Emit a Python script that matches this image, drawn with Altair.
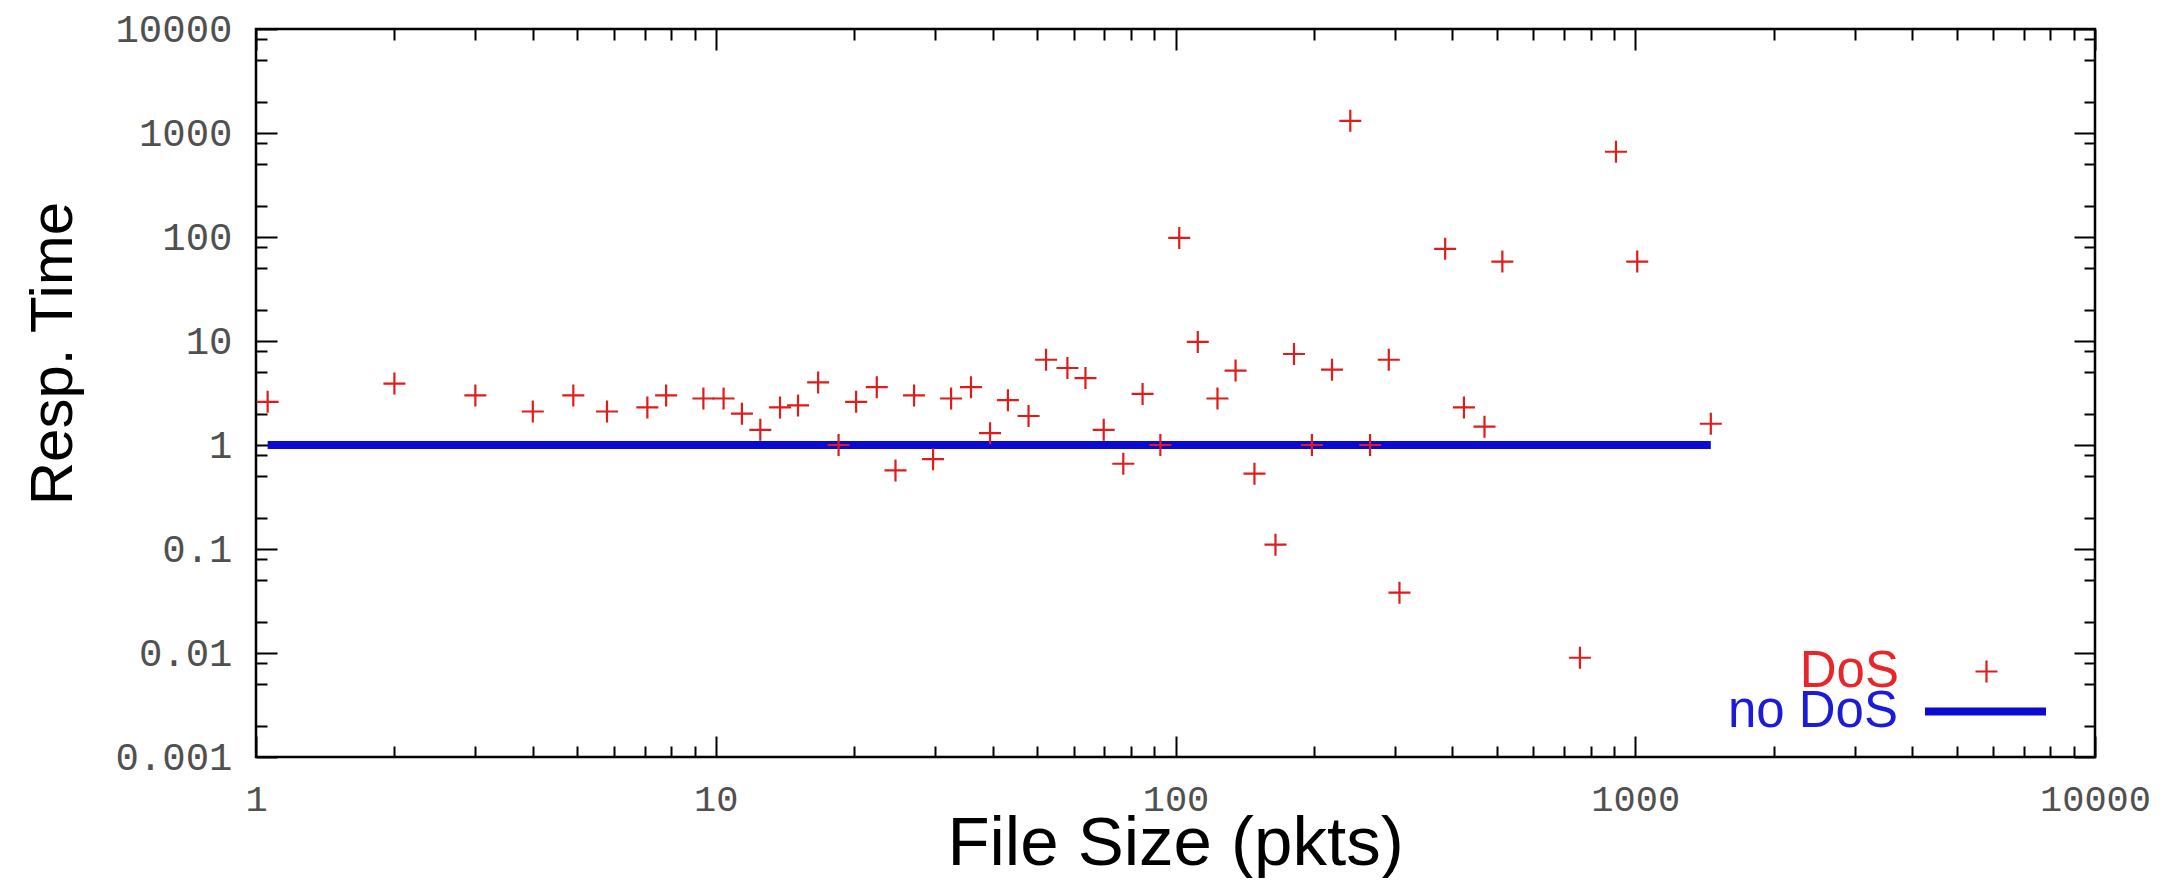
import altair as alt
import pandas as pd

# ---- data ----
dos_size = [1.06, 2, 3, 4, 4.9, 5.8, 7.1, 7.8, 9.4, 10.4, 11.4, 12.5, 13.8, 15.1, 16.7,
            18.5, 20.2, 22.4, 24.6, 27.0, 29.7, 32.5, 35.9, 39.5, 43.2, 47.9, 52.3,
            58.2, 63.7, 69.8, 77.0, 84.8, 92.7, 101.9, 111.8, 123.4, 135.1, 148.5,
            165, 181, 198, 219, 240, 265, 291, 307, 386, 424, 470, 514, 758, 908,
            1010, 1460]
dos_time = [2.6, 3.9, 3.0, 2.1, 3.0, 2.1, 2.3, 3.0, 2.8, 2.8, 2.0, 1.4, 2.3, 2.4, 4.0,
            1.0, 2.6, 3.6, 0.57, 3.0, 0.73, 2.8, 3.6, 1.3, 2.7, 1.9, 6.6,
            5.5, 4.4, 1.4, 0.66, 3.1, 1.0, 98, 9.8, 2.8, 5.2, 0.53,
            0.11, 7.5, 1.0, 5.3, 1310, 1.0, 6.6, 0.038, 77, 2.3, 1.5, 58, 0.009, 660,
            58, 1.6]
nodos_size = [1.06, 1460]
nodos_time = [1, 1]

dos_name, nodos_name = "DoS", "no DoS"
dos_color, nodos_color = "#e01b1b", "#0a0ad2"
dos_label_color, nodos_label_color = "#e8262a", "#1c1cd8"
PLUS = "M-1,0L1,0M0,-1L0,1"

x_major = [1, 10, 100, 1000, 10000]
x_minor = [m * 10 ** k for k in range(4) for m in range(2, 10)]
y_major = [0.001, 0.01, 0.1, 1, 10, 100, 1000, 10000]
y_minor = [round(m * 10.0 ** k, 6) for k in range(-3, 4) for m in (2, 5, 8)]

MONO = "Liberation Mono"
SANS = "Liberation Sans"
MAJ, MIN = 21, 11

dos_df = pd.DataFrame({"size": dos_size, "time": dos_time, "series": dos_name})
line_df = pd.DataFrame({"size": nodos_size, "time": nodos_time, "series": nodos_name})

xscale = alt.Scale(type="log", domain=[1, 10000], nice=False)
yscale = alt.Scale(type="log", domain=[0.001, 10000], nice=False)

legend_common = dict(
    title=None, orient="none", direction="vertical", labelFont=SANS, labelFontSize=51,
    labelAlign="right", labelBaseline="middle", labelLimit=0, padding=0,
)
legend_dos = alt.Legend(
    legendX=1705, legendY=617, symbolType=PLUS, symbolSize=484, symbolStrokeWidth=2.2,
    symbolFillColor="transparent", labelColor=dos_label_color,
    labelOffset=alt.ExprRef(expr="-113"), **legend_common)
legend_nodos = alt.Legend(
    legendX=1665, legendY=618, symbolType="stroke", symbolSize=14641, symbolStrokeWidth=8,
    labelColor=nodos_label_color, labelOffset=alt.ExprRef(expr="-152"), **legend_common)


def tick_axis(orient, values, length):
    return alt.Axis(orient=orient, values=values, offset=-length, tickSize=length,
                    tickWidth=2, tickColor="black", labels=False, domain=False,
                    grid=False, title=None)


x_label_axis = alt.Axis(
    orient="bottom", values=x_major, labelExpr="format(datum.value, '~f')",
    labelFont=MONO, labelFontSize=37, labelColor="#505050", labelPadding=24,
    labelFlush=False, labelOverlap=False, ticks=False, domain=False, grid=False,
    title="File Size (pkts)", titleFont=SANS, titleFontSize=69, titleFontWeight="normal",
    titleColor="black", titleX=919, titleY=107, titleBaseline="alphabetic", titleAlign="center")

y_label_axis = alt.Axis(
    orient="left", values=y_major, labelExpr="format(datum.value, '~f')",
    labelFont=MONO, labelFontSize=39, labelColor="#505050", labelPadding=24,
    labelFlush=False, labelOverlap=False, ticks=False, domain=False, grid=False,
    title="Resp. Time", titleFont=SANS, titleFontSize=60, titleFontWeight="normal",
    titleColor="black", titleX=-203, titleY=324, titleAngle=270,
    titleBaseline="middle", titleAlign="center")


def ghost(xaxis, yaxis):
    return alt.Chart(line_df).mark_line(opacity=0).encode(
        x=alt.X("size:Q", scale=xscale, axis=xaxis),
        y=alt.Y("time:Q", scale=yscale, axis=yaxis),
    )


g1 = ghost(tick_axis("bottom", x_minor, MIN), tick_axis("left", y_minor, MIN))
g2 = ghost(tick_axis("top", x_major, MAJ), tick_axis("right", y_major, MAJ))
g3 = ghost(tick_axis("top", x_minor, MIN), tick_axis("right", y_minor, MIN))

line = alt.Chart(line_df).mark_line(strokeWidth=8).encode(
    x=alt.X("size:Q", scale=xscale, axis=tick_axis("bottom", x_major, MAJ)),
    y=alt.Y("time:Q", scale=yscale, axis=tick_axis("left", y_major, MAJ)),
    stroke=alt.Stroke("series:N", scale=alt.Scale(domain=[nodos_name], range=[nodos_color]),
                      legend=legend_nodos),
)

points = alt.Chart(dos_df).mark_point(
    filled=False, opacity=1, shape=PLUS, size=484, strokeWidth=2.2
).encode(
    x=alt.X("size:Q", scale=xscale, axis=x_label_axis),
    y=alt.Y("time:Q", scale=yscale, axis=y_label_axis),
    color=alt.Color("series:N", scale=alt.Scale(domain=[dos_name], range=[dos_color]),
                    legend=legend_dos),
)

chart = (
    alt.layer(g1, g2, g3, line, points)
    .resolve_axis(x="independent", y="independent")
    .properties(
        width=1839, height=728,
        autosize=alt.AutoSizeParams(type="none"),
        padding={"left": 248, "top": 21, "right": 60, "bottom": 121},
    )
    .configure(background="white")
    .configure_view(stroke="black", strokeWidth=2.5)
)

chart.save("out.html", embed_options={"renderer": "svg", "actions": False})
